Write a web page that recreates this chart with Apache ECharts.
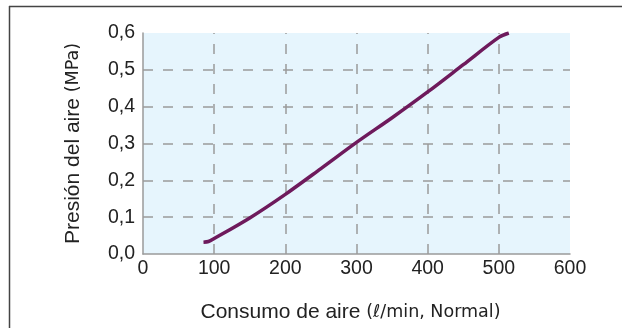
<!DOCTYPE html>
<html><head><meta charset="utf-8">
<script src="https://cdn.jsdelivr.net/npm/echarts@6/dist/echarts.min.js"></script>
<style>html,body{margin:0;padding:0;background:#fff}#c{width:622px;height:328px}</style>
</head><body><div id="c"></div>
<script>
const flowValues = [85, 92, 100, 150, 200, 250, 300, 350, 400, 450, 500, 514];
const pressureValues = [0.032, 0.034, 0.042, 0.098, 0.162, 0.232, 0.303, 0.370, 0.440, 0.514, 0.588, 0.6];
const xGridTicks = [100, 200, 300, 400, 500];
const yGridTicks = [0.1, 0.2, 0.3, 0.4, 0.5];
const xName = ['Consumo de aire ', '(ℓ/min, Normal)'];
const yName = ['Presión del aire ', '(MPa)'];

const chart = echarts.init(document.getElementById('c'), null, {renderer: 'canvas'});
const font = 'Liberation Sans, Arial, sans-serif';
const gridLine = {color: '#9a9a9a', width: 1.5, type: [10, 10]};
const markData = [];
xGridTicks.forEach(v => markData.push({xAxis: v}));
yGridTicks.forEach(v => markData.push({yAxis: v}));
const nameRich = {
  a: {fontSize: 21, color: '#222', fontFamily: font},
  b: {fontSize: 17.5, color: '#222', fontFamily: 'DejaVu Sans, sans-serif'}
};

chart.setOption({
  animation: false,
  graphic: [
    {type: 'line', shape: {x1: 9, y1: 6.5, x2: 622, y2: 6.5}, style: {stroke: '#444', lineWidth: 1.5}},
    {type: 'line', shape: {x1: 9.5, y1: 6, x2: 9.5, y2: 328}, style: {stroke: '#444', lineWidth: 1.5}}
  ],
  grid: {left: 143, right: 52, top: 33, bottom: 73, show: true, backgroundColor: '#e6f5fd', borderWidth: 0},
  xAxis: {
    type: 'value', min: 0, max: 600, interval: 100,
    axisLine: {show: true, lineStyle: {color: '#9a9a9a', width: 1.5}},
    axisTick: {show: false}, splitLine: {show: false},
    axisLabel: {color: '#222', fontSize: 19.5, fontFamily: font, margin: 5},
    name: '{a|' + xName[0] + '}{b|' + xName[1] + '}',
    nameLocation: 'middle', nameGap: 48,
    nameTextStyle: {rich: nameRich, padding: [0, 12, 0, 0]}
  },
  yAxis: {
    type: 'value', min: 0, max: 0.6, interval: 0.1,
    axisLine: {show: true, lineStyle: {color: '#9a9a9a', width: 1.5}},
    axisTick: {show: false}, splitLine: {show: false},
    axisLabel: {color: '#222', fontSize: 19.5, fontFamily: font, margin: 8,
      formatter: v => v.toFixed(1).replace('.', ',')},
    name: '{a|' + yName[0] + '}{b|' + yName[1] + '}',
    nameLocation: 'middle', nameGap: 59,
    nameTextStyle: {rich: nameRich}
  },
  series: [{
    type: 'line', smooth: 0.3, showSymbol: false,
    data: flowValues.map((x, i) => [x, pressureValues[i]]),
    lineStyle: {color: '#6e1a5c', width: 3.5},
    markLine: {silent: true, symbol: 'none', label: {show: false}, lineStyle: gridLine, data: markData, z: 1},
    z: 5
  }]
});
</script></body></html>
